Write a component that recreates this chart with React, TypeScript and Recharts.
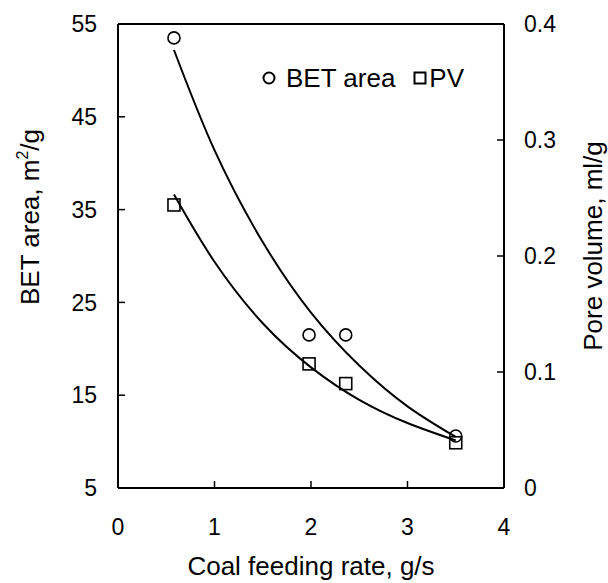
import {
  ComposedChart,
  Line,
  Scatter,
  XAxis,
  YAxis,
  ReferenceLine,
  Label,
} from "recharts";

// measured points
const feedRate = [0.58, 1.98, 2.36, 3.5];
const betArea = [53.5, 21.5, 21.5, 10.6];
const poreVolume = [0.244, 0.107, 0.09, 0.039];

// trend lines
const trendX = [0.58, 1.0, 1.5, 2.0, 2.5, 3.0, 3.5];
const betTrend = [52.2, 41.4, 31.5, 23.9, 18.2, 13.8, 10.5];
const pvTrend = [0.253, 0.195, 0.142, 0.104, 0.076, 0.056, 0.041];

const xTicks = [0, 1, 2, 3, 4];
const leftTicks = [5, 15, 25, 35, 45, 55];
const rightTicks = [0, 0.1, 0.2, 0.3, 0.4];

const FONT = "'Liberation Sans', Arial, sans-serif";

const betPoints = feedRate.map((x, i) => ({ x, y: betArea[i] }));
const pvPoints = feedRate.map((x, i) => ({ x, y: poreVolume[i] }));
const betLine = trendX.map((x, i) => ({ x, y: betTrend[i] }));
const pvLine = trendX.map((x, i) => ({ x, y: pvTrend[i] }));

const OpenCircle = (props: any) => (
  <circle
    cx={props.cx}
    cy={props.cy}
    r={6}
    fill="none"
    stroke="#000"
    strokeWidth={1.6}
  />
);

const OpenSquare = (props: any) => (
  <rect
    x={props.cx - 6}
    y={props.cy - 6}
    width={12}
    height={12}
    fill="none"
    stroke="#000"
    strokeWidth={1.6}
  />
);

const tickStyle = { fill: "#000", fontSize: 23, fontFamily: FONT };

export default function App() {
  return (
    <div style={{ position: "absolute", left: 0, top: 0, background: "#fff" }}>
      <ComposedChart
        width={608}
        height={583}
        margin={{ top: 24, right: 0, bottom: 0, left: 0 }}
      >
        <XAxis
          dataKey="x"
          type="number"
          domain={[0, 4]}
          ticks={xTicks}
          allowDataOverflow
          height={95}
          tickSize={-7}
          tickMargin={38}
          tick={tickStyle}
          axisLine={{ stroke: "#000", strokeWidth: 2 }}
          tickLine={{ stroke: "#000", strokeWidth: 1.5 }}
        >
          <Label
            content={() => (
              <text
                x={311}
                y={575}
                textAnchor="middle"
                fontSize={26}
                fontFamily={FONT}
                fill="#000"
              >
                Coal feeding rate, g/s
              </text>
            )}
          />
        </XAxis>
        <YAxis
          yAxisId="left"
          type="number"
          domain={[5, 55]}
          ticks={leftTicks}
          allowDataOverflow
          width={118}
          tickSize={-7}
          tickMargin={28}
          tick={tickStyle}
          axisLine={{ stroke: "#000", strokeWidth: 2 }}
          tickLine={{ stroke: "#000", strokeWidth: 1.5 }}
        >
          <Label
            content={() => (
              <text
                x={39}
                y={217}
                transform="rotate(-90, 39, 217)"
                textAnchor="middle"
                fontSize={26}
                fontFamily={FONT}
                fill="#000"
              >
                BET area, m
                <tspan fontSize={16} dy={-11}>
                  2
                </tspan>
                <tspan dy={11}>/g</tspan>
              </text>
            )}
          />
        </YAxis>
        <YAxis
          yAxisId="right"
          orientation="right"
          type="number"
          domain={[0, 0.4]}
          ticks={rightTicks}
          allowDataOverflow
          width={104}
          tickSize={-7}
          tickMargin={27}
          tick={tickStyle}
          axisLine={{ stroke: "#000", strokeWidth: 2 }}
          tickLine={{ stroke: "#000", strokeWidth: 1.5 }}
        >
          <Label
            content={() => (
              <text
                x={602}
                y={246}
                transform="rotate(-90, 602, 246)"
                textAnchor="middle"
                fontSize={26}
                fontFamily={FONT}
                fill="#000"
              >
                Pore volume, ml/g
              </text>
            )}
          />
        </YAxis>
        <ReferenceLine
          yAxisId="left"
          y={55}
          stroke="#000"
          strokeWidth={2}
        />
        <Line
          yAxisId="left"
          data={betLine}
          dataKey="y"
          type="natural"
          stroke="#000"
          strokeWidth={2}
          dot={false}
          activeDot={false}
          isAnimationActive={false}
        />
        <Line
          yAxisId="right"
          data={pvLine}
          dataKey="y"
          type="natural"
          stroke="#000"
          strokeWidth={2}
          dot={false}
          activeDot={false}
          isAnimationActive={false}
        />
        <Scatter
          yAxisId="left"
          data={betPoints}
          dataKey="y"
          shape={OpenCircle}
          isAnimationActive={false}
        />
        <Scatter
          yAxisId="right"
          data={pvPoints}
          dataKey="y"
          shape={OpenSquare}
          isAnimationActive={false}
        />
      </ComposedChart>
      <div
        style={{
          position: "absolute",
          left: 262,
          top: 63,
          display: "flex",
          alignItems: "center",
          fontFamily: FONT,
          fontSize: 26,
          lineHeight: "30px",
          color: "#000",
          whiteSpace: "nowrap",
        }}
      >
        <svg width={14} height={14} style={{ marginRight: 10 }}>
          <circle cx={7} cy={7} r={5.5} fill="none" stroke="#000" strokeWidth={2} />
        </svg>
        <span>BET area</span>
        <svg width={14} height={14} style={{ marginLeft: 18, marginRight: 2 }}>
          <rect x={1.5} y={1.5} width={11} height={11} fill="none" stroke="#000" strokeWidth={2} />
        </svg>
        <span>PV</span>
      </div>
    </div>
  );
}
